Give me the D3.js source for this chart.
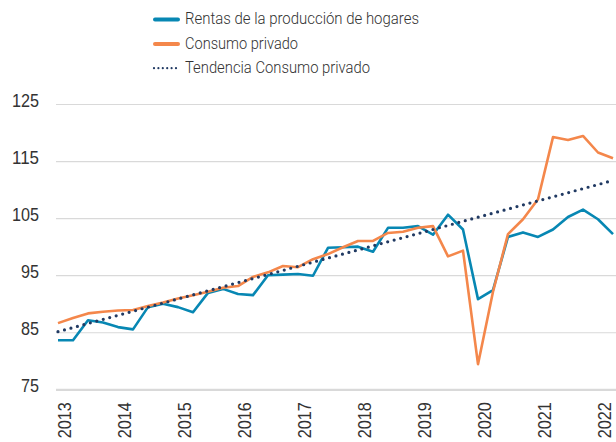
<!DOCTYPE html>
<html><head><meta charset="utf-8">
<script src="https://cdn.jsdelivr.net/npm/d3@7"></script>
<style>
html,body{margin:0;padding:0;background:#fff;}
svg{display:block;font-family:Roboto,"DejaVu Sans",sans-serif;font-weight:300;}
</style>
</head><body>
<svg id="chart" width="616" height="442"></svg>
<script>
// ---- Data (quarterly index) ----
const periods = [
  "2013T1","2013T2","2013T3","2013T4",
  "2014T1","2014T2","2014T3","2014T4",
  "2015T1","2015T2","2015T3","2015T4",
  "2016T1","2016T2","2016T3","2016T4",
  "2017T1","2017T2","2017T3","2017T4",
  "2018T1","2018T2","2018T3","2018T4",
  "2019T1","2019T2","2019T3","2019T4",
  "2020T1","2020T2","2020T3","2020T4",
  "2021T1","2021T2","2021T3","2021T4",
  "2022T1","2022T2"
];
const rentasHogares = [
  83.6, 83.6, 87.1, 86.7, 85.9, 85.5, 89.4, 90.0,
  89.4, 88.5, 91.9, 92.6, 91.7, 91.5, 95.0, 95.1,
  95.2, 94.9, 99.8, 99.9, 100.0, 99.1, 103.3, 103.3,
  103.6, 102.1, 105.6, 103.0, 90.8, 92.4, 101.7, 102.5,
  101.7, 103.0, 105.2, 106.5, 104.8, 102.2
];
const consumoPrivado = [
  86.6, 87.5, 88.3, 88.6, 88.8, 88.9, 89.6, 90.2,
  90.9, 91.5, 92.1, 92.8, 93.1, 94.7, 95.5, 96.6,
  96.4, 97.8, 98.7, 99.9, 101.0, 101.0, 102.4, 102.6,
  103.3, 103.6, 98.3, 99.3, 79.4, 92.1, 102.2, 104.8,
  108.3, 119.2, 118.7, 119.4, 116.5, 115.5
];
// linear trend line of consumo privado: first and last period values
const tendenciaPeriods = ["2013T1", "2022T2"];
const tendenciaConsumo = [85.1, 111.6];

const yTicks = [75, 85, 95, 105, 115, 125];
const xTickPeriods = ["2013T1","2014T1","2015T1","2016T1","2017T1","2018T1","2019T1","2020T1","2021T1","2022T1"];
const xTickLabels = ["2013","2014","2015","2016","2017","2018","2019","2020","2021","2022"];
const seriesNames = ["Rentas de la producción de hogares", "Consumo privado", "Tendencia Consumo privado"];

// ---- Styles ----
const colBlue = "#0787b3", colOrange = "#f4874b", colNavy = "#213a63";
const textCol = "#333333";

const svg = d3.select("#chart");
const x = d3.scalePoint().domain(periods).range([58, 613]);
const y = d3.scaleLinear().domain([75, 125]).range([389.3, 104]);

// grid + y axis
const yAxis = d3.axisLeft(y).tickValues(yTicks).tickSize(-560).tickPadding(17).tickFormat(d3.format("d"));
const gy = svg.append("g").attr("transform", "translate(56,0)").call(yAxis);
gy.select(".domain").remove();
gy.selectAll(".tick line")
  .attr("stroke", "#d9d9d9")
  .attr("stroke-width", d => d === 75 ? 2.2 : 1.2);
gy.selectAll(".tick text")
  .attr("fill", textCol)
  .attr("font-size", 18)
  .attr("font-weight", 300)
  .attr("textLength", function(d){ return String(d).length * 9; })
  .attr("lengthAdjust", "spacingAndGlyphs")
  .attr("dy", 2.2);

// x axis labels
const lblMap = new Map(xTickPeriods.map((p, i) => [p, xTickLabels[i]]));
const xAxis = d3.axisBottom(x).tickValues(xTickPeriods).tickSize(0).tickFormat(d => lblMap.get(d));
const gx = svg.append("g").attr("transform", "translate(0,389.3)").call(xAxis);
gx.select(".domain").remove();
gx.selectAll(".tick text")
  .attr("fill", textCol)
  .attr("font-size", 18)
  .attr("font-weight", 300)
  .attr("transform", "rotate(-90)")
  .attr("x", -13)
  .attr("y", 12)
  .attr("dy", 0)
  .attr("text-anchor", "end")
  .attr("textLength", 36)
  .attr("lengthAdjust", "spacingAndGlyphs");

// lines
const line = d3.line().x((d, i) => x(periods[i])).y(d => y(d));
svg.append("path").datum(rentasHogares)
  .attr("fill", "none").attr("stroke", colBlue).attr("stroke-width", 2.6)
  .attr("stroke-linejoin", "round").attr("d", line);
svg.append("path").datum(consumoPrivado)
  .attr("fill", "none").attr("stroke", colOrange).attr("stroke-width", 2.6)
  .attr("stroke-linejoin", "round").attr("d", line);
const trendLine = d3.line().x((d, i) => x(tendenciaPeriods[i])).y(d => y(d));
svg.append("path").datum(tendenciaConsumo)
  .attr("fill", "none").attr("stroke", colNavy).attr("stroke-width", 3.2)
  .attr("stroke-linecap", "round").attr("stroke-dasharray", "0 6.7")
  .attr("d", trendLine);

// legend
const legendWidths = [234, 113, 185];
const lg = svg.append("g");
seriesNames.forEach((name, i) => {
  const base = 24 + i * 24.6;
  const item = lg.append("g");
  if (i < 2) {
    item.append("line").attr("x1", 155).attr("x2", 178).attr("y1", base - 4.5).attr("y2", base - 4.5)
      .attr("stroke", i === 0 ? colBlue : colOrange).attr("stroke-width", 4).attr("stroke-linecap", "round");
  } else {
    item.append("line").attr("x1", 154).attr("x2", 178).attr("y1", base - 5).attr("y2", base - 5)
      .attr("stroke", colNavy).attr("stroke-width", 2.2).attr("stroke-linecap", "round")
      .attr("stroke-dasharray", "0 4.4");
  }
  item.append("text").attr("x", 185).attr("y", base).attr("fill", textCol)
    .attr("font-size", 17).attr("font-weight", 300)
    .attr("textLength", legendWidths[i]).attr("lengthAdjust", "spacingAndGlyphs")
    .text(name);
});
</script>
</body></html>
